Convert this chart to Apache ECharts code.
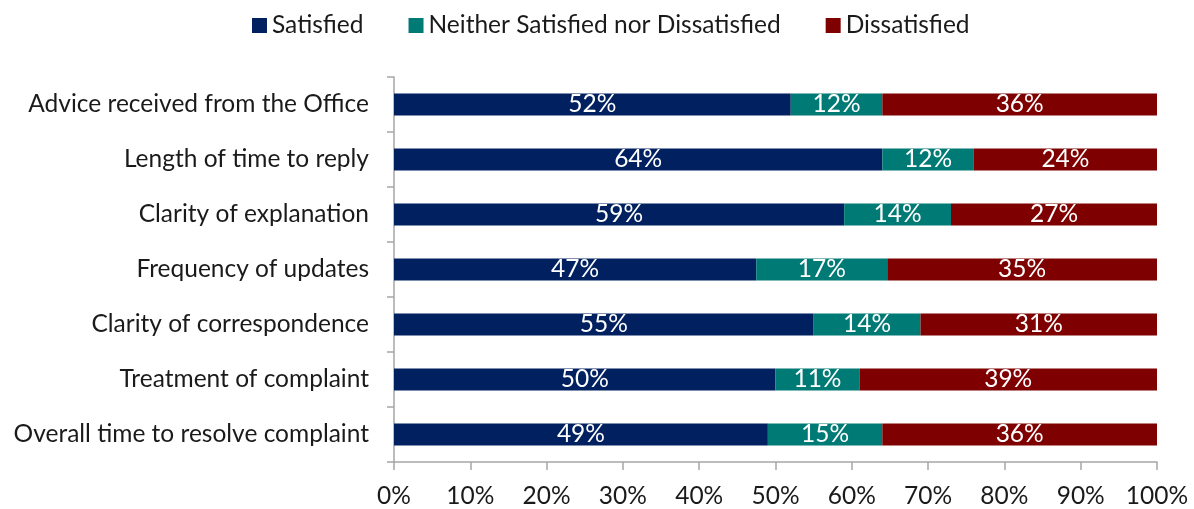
<!DOCTYPE html>
<html>
<head>
<meta charset="utf-8">
<script src="https://cdn.jsdelivr.net/npm/echarts@6/dist/echarts.min.js"></script>
<style>
  html, body { margin: 0; padding: 0; background: #ffffff; }
  #chart { width: 1194px; height: 509px; }
</style>
</head>
<body>
<div id="chart"></div>
<script>
// Survey items, listed top to bottom
const categories = [
  'Advice received from the Office',
  'Length of time to reply',
  'Clarity of explanation',
  'Frequency of updates',
  'Clarity of correspondence',
  'Treatment of complaint',
  'Overall time to resolve complaint'
];

// Responses (%) per item
const satisfied    = [52, 64, 59, 47, 55, 50, 49];
const neither      = [12, 12, 14, 17, 14, 11, 15];
const dissatisfied = [36, 24, 27, 35, 31, 39, 36];

const seriesNames = ['Satisfied', 'Neither Satisfied nor Dissatisfied', 'Dissatisfied'];
const seriesColors = ['#002060', '#007A75', '#7F0000'];
const xTicks = [0, 10, 20, 30, 40, 50, 60, 70, 80, 90, 100];

const FONT = 'Lato';
const SIZE = 24.5;

// 100% stacked: each row is scaled to its own total, labels keep the reported value
const rowTotals = categories.map((_, i) => satisfied[i] + neither[i] + dissatisfied[i]);
function share(values) {
  return values.map((v, i) => ({ value: v / rowTotals[i] * 100, raw: v }));
}

const seriesData = [satisfied, neither, dissatisfied];

const chart = echarts.init(document.getElementById('chart'), null, { renderer: 'canvas' });

chart.setOption({
  animation: false,
  backgroundColor: '#ffffff',
  textStyle: { fontFamily: FONT },
  legend: {
    top: 8,
    left: 247,
    itemWidth: 15,
    itemHeight: 15,
    itemGap: 45,
    icon: 'rect',
    textStyle: { fontFamily: FONT, fontSize: SIZE, color: '#1a1a1a' },
    data: seriesNames
  },
  grid: { left: 394, right: 37, top: 77, bottom: 45, containLabel: false },
  xAxis: {
    type: 'value',
    min: xTicks[0],
    max: xTicks[xTicks.length - 1],
    interval: 10,
    axisLine: { show: true, lineStyle: { color: '#a6a6a6', width: 1.5 } },
    axisTick: { show: true, length: 8, lineStyle: { color: '#a6a6a6', width: 1.5 } },
    splitLine: { show: false },
    axisLabel: {
      margin: 22,
      formatter: '{value}%',
      fontFamily: FONT,
      fontSize: SIZE,
      color: '#1a1a1a'
    }
  },
  yAxis: {
    type: 'category',
    inverse: true,
    data: categories,
    axisLine: { show: true, lineStyle: { color: '#a6a6a6', width: 1.5 } },
    axisTick: { show: true, length: 7, lineStyle: { color: '#a6a6a6', width: 1.5 } },
    axisLabel: {
      margin: 25,
      fontFamily: FONT,
      fontSize: SIZE,
      color: '#1a1a1a'
    }
  },
  series: seriesData.map((vals, k) => ({
    name: seriesNames[k],
    type: 'bar',
    stack: 'total',
    barWidth: '40%',
    itemStyle: { color: seriesColors[k] },
    label: {
      show: true,
      position: 'inside',
      color: '#ffffff',
      fontFamily: FONT,
      fontSize: SIZE,
      formatter: p => p.data.raw + '%'
    },
    data: share(vals)
  }))
});
</script>
</body>
</html>
